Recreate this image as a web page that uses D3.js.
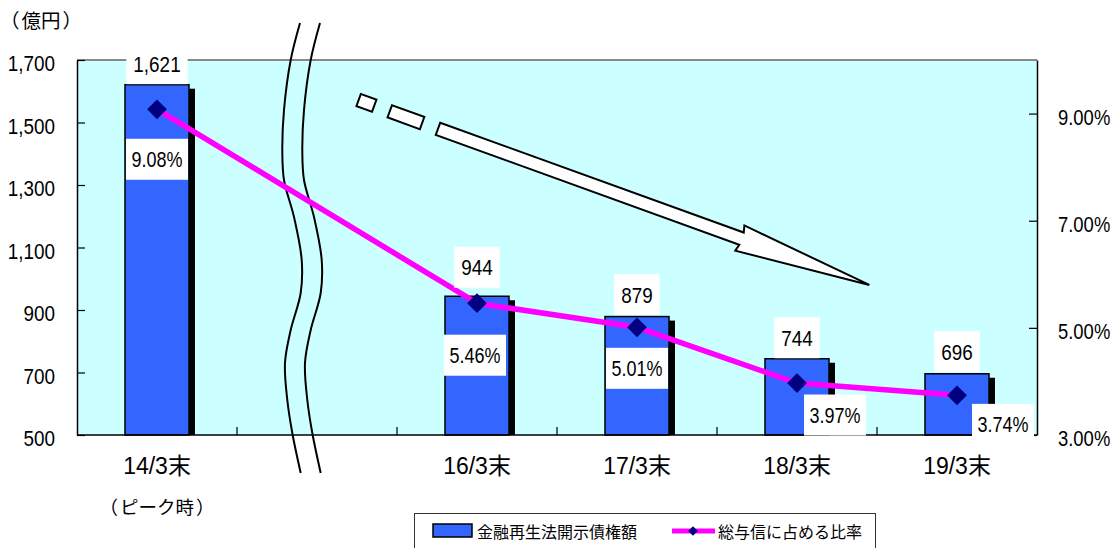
<!DOCTYPE html>
<html>
<head>
<meta charset="utf-8">
<script src="https://cdn.jsdelivr.net/npm/d3@7"></script>
<style>
  html, body { margin: 0; padding: 0; background: #fff; }
  svg { display: block; }
</style>
</head>
<body>
<svg id="chart" width="1112" height="548"></svg>
<script>
// ---- data ----
const categories = ["14/3末", "", "16/3末", "17/3末", "18/3末", "19/3末"];
const categoryNotes = ["（ピーク時）", "", "", "", "", ""];
const disclosedClaims = [1621, null, 944, 879, 744, 696];   // 億円
const claimRatio = [9.08, null, 5.46, 5.01, 3.97, 3.74];     // %
const leftTicks = [500, 700, 900, 1100, 1300, 1500, 1700];
const rightTicks = [3, 5, 7, 9];
const seriesNames = ["金融再生法開示債権額", "総与信に占める比率"];
const unitLabel = "（億円）";

// ---- label placement (px offsets from each mark) ----
const valueLabelDy = [-21, 0, -29, -22, -21, -22];
const ratioLabelOffset = [[0, 50], [0, 0], [-2, 52], [0, 41], [38, 32], [46, 29]];

// ---- layout ----
const plot = { left: 77, right: 1037, top: 60, bottom: 435 };
const NUM_FONT = "'Liberation Sans', Arial, sans-serif";
const JP_FONT = "'Noto Sans CJK JP', 'Noto Sans', sans-serif";
const COLORS = { bg: "#CCFFFF", bar: "#3366FF", line: "#FF00FF", marker: "#000080" };
const NUM_SIZE = 22.5;

const svg = d3.select("#chart");

const x = d3.scaleBand().domain(categories).range([plot.left, plot.right]).padding(0);
const yL = d3.scaleLinear().domain([500, 1700]).range([plot.bottom, plot.top]);
const yR = d3.scaleLinear().domain([3, 10]).range([plot.bottom, plot.top]);
const cx = c => x(c) + x.bandwidth() / 2;
const barW = x.bandwidth() * 0.4;

// text wrapped in full-width brackets, with a little space inside them
function bracketed(textSel, str, gap) {
  const inner = str.slice(1, -1);
  textSel.append("tspan").text(str[0]);
  textSel.append("tspan").attr("dx", gap).text(inner);
  textSel.append("tspan").attr("dx", gap).text(str[str.length - 1]);
}

// plot background
svg.append("rect")
  .attr("x", plot.left).attr("y", plot.top)
  .attr("width", plot.right - plot.left).attr("height", plot.bottom - plot.top)
  .attr("fill", COLORS.bg);

// top frame line
svg.append("line")
  .attr("x1", plot.left).attr("x2", plot.right)
  .attr("y1", plot.top).attr("y2", plot.top)
  .attr("stroke", "#888").attr("stroke-width", 2);

// ---- bars with drop shadow ----
const barData = categories.map((c, i) => ({ c, v: disclosedClaims[i], i })).filter(d => d.v != null);

const bars = svg.append("g");
bars.selectAll("rect.shadow").data(barData).join("rect")
  .attr("class", "shadow")
  .attr("x", d => cx(d.c) - barW / 2 + 6)
  .attr("y", d => yL(d.v) + 4)
  .attr("width", barW)
  .attr("height", d => plot.bottom - yL(d.v) - 4)
  .attr("fill", "#000");
bars.selectAll("rect.bar").data(barData).join("rect")
  .attr("class", "bar")
  .attr("x", d => cx(d.c) - barW / 2)
  .attr("y", d => yL(d.v))
  .attr("width", barW)
  .attr("height", d => plot.bottom - yL(d.v))
  .attr("fill", COLORS.bar)
  .attr("stroke", "#000").attr("stroke-width", 1.5);

// ---- axis break (double wavy line) ----
const breakWave = [[16, -37], [6.7, 0], [0, 50], [-1.7, 90], [0, 120], [10, 157], [17.7, 200],
  [16.7, 233], [6.7, 270], [1, 303], [3.3, 340], [8.3, 373], [16.7, 413]];
const breakX = x(categories[1]) + 47;
const wave = d3.line()
  .x(p => breakX + p[0])
  .y(p => plot.top + p[1])
  .curve(d3.curveCatmullRom);
[0, 20].forEach(off => {
  svg.append("path")
    .attr("d", wave(breakWave.map(p => [p[0] + off, p[1]])))
    .attr("fill", "none").attr("stroke", "#000").attr("stroke-width", 2);
});

// ---- trend arrow (dashed tail + block arrow) ----
const arrow = svg.append("g")
  .attr("transform", `translate(${plot.left + 361},${plot.top + 68.8}) rotate(19.9)`);
const arrowStyle = sel => sel.attr("fill", "#fff").attr("stroke", "#000").attr("stroke-width", 2);
[[-84.4, -67.8], [-51.3, -16.9]].forEach(([a, b]) => {
  arrow.append("rect").attr("x", a).attr("y", -6.5).attr("width", b - a).attr("height", 13).call(arrowStyle);
});
arrow.append("polygon")
  .attr("points", [[0, -6.5], [322.8, -6.5], [321, -13.4], [458.7, 0], [321, 13.4], [322.8, 6.5], [0, 6.5]].join(" "))
  .call(arrowStyle);

// ---- ratio line ----
const lineData = categories.map((c, i) => ({ c, v: claimRatio[i], i })).filter(d => d.v != null);
svg.append("path")
  .datum(lineData)
  .attr("d", d3.line().x(d => cx(d.c)).y(d => yR(d.v)))
  .attr("fill", "none").attr("stroke", COLORS.line).attr("stroke-width", 5.5)
  .attr("stroke-linejoin", "round");
svg.selectAll("path.marker").data(lineData).join("path")
  .attr("class", "marker")
  .attr("d", d3.symbol().type(d3.symbolDiamond2).size(250))
  .attr("transform", d => `translate(${cx(d.c)},${yR(d.v)})`)
  .attr("fill", COLORS.marker);

// ---- axes ----
const SX = 0.84;
const gL = svg.append("g").attr("transform", `translate(${plot.left},0)`)
  .call(d3.axisLeft(yL).tickValues(leftTicks).tickFormat(d3.format(",")).tickSize(-8).tickSizeOuter(0).tickPadding(22));
const gR = svg.append("g").attr("transform", `translate(${plot.right},0)`)
  .call(d3.axisRight(yR).tickValues(rightTicks).tickFormat(d => d.toFixed(2) + "%").tickSize(-8).tickSizeOuter(0).tickPadding(21));
[gL, gR].forEach(g => {
  g.select(".domain").attr("stroke", "#000").attr("stroke-width", 1.5);
  g.selectAll(".tick line").attr("stroke", "#000").attr("stroke-width", 1.2);
  g.selectAll(".tick text")
    .attr("font-family", NUM_FONT).attr("font-size", NUM_SIZE).attr("fill", "#000")
    .attr("dy", "0.47em");
});
gL.selectAll(".tick text").attr("transform", `scale(${SX},1)`).attr("x", -22 / SX);
gR.selectAll(".tick text").attr("transform", `scale(0.82,1)`).attr("x", 21 / 0.82);

const gB = svg.append("g").attr("transform", `translate(0,${plot.bottom})`)
  .call(d3.axisBottom(x).tickSize(0).tickPadding(23));
gB.select(".domain").remove();
gB.selectAll(".tick text")
  .attr("font-family", `'Liberation Sans', ${JP_FONT}`).attr("font-size", 23).attr("fill", "#000");
// category boundary ticks
svg.append("g").selectAll("line").data(d3.range(1, categories.length)).join("line")
  .attr("x1", i => plot.left + i * x.step()).attr("x2", i => plot.left + i * x.step())
  .attr("y1", plot.bottom).attr("y2", plot.bottom - 8)
  .attr("stroke", "#000").attr("stroke-width", 1.2);
svg.append("line")
  .attr("x1", plot.left).attr("x2", plot.right)
  .attr("y1", plot.bottom).attr("y2", plot.bottom)
  .attr("stroke", "#000").attr("stroke-width", 1.5);

// sub-notes under category labels
categories.forEach((c, i) => {
  if (!categoryNotes[i]) return;
  const t = svg.append("text")
    .attr("x", cx(c)).attr("y", 508).attr("dy", "0.35em")
    .attr("text-anchor", "middle")
    .attr("font-family", JP_FONT).attr("font-size", 18.5).attr("fill", "#000");
  bracketed(t, categoryNotes[i], 2);
});

// unit label
const unit = svg.append("text")
  .attr("x", 0).attr("y", 21).attr("dy", "0.35em")
  .attr("font-family", JP_FONT).attr("font-size", 19.5).attr("fill", "#000");
bracketed(unit, unitLabel, 2);

// ---- data labels with white boxes ----
function boxedLabel(px, py, str, sx, pad) {
  const g = svg.append("g").attr("transform", `translate(${px},${py})`);
  const rect = g.append("rect").attr("fill", "#fff");
  const t = g.append("text")
    .attr("transform", `scale(${sx},1)`)
    .attr("text-anchor", "middle")
    .attr("y", 0.36 * NUM_SIZE)
    .attr("font-family", NUM_FONT).attr("font-size", NUM_SIZE).attr("fill", "#000")
    .text(str);
  const w = t.node().getComputedTextLength() * sx + pad;
  rect.attr("x", -w / 2).attr("y", -20.5).attr("width", w).attr("height", 41);
}
barData.forEach(d => {
  boxedLabel(cx(d.c), yL(d.v) + valueLabelDy[d.i], d3.format(",")(d.v), SX, 14);
});
lineData.forEach(d => {
  const [dx, dy] = ratioLabelOffset[d.i];
  boxedLabel(cx(d.c) + dx, yR(d.v) + dy, d.v.toFixed(2) + "%", 0.8, 11);
});

// ---- legend ----
const lg = svg.append("g");
lg.append("rect")
  .attr("x", 414.5).attr("y", 513.5).attr("width", 461).attr("height", 45)
  .attr("fill", "#fff").attr("stroke", "#333").attr("stroke-width", 1);
lg.append("rect")
  .attr("x", 433).attr("y", 524).attr("width", 39).attr("height", 13)
  .attr("fill", COLORS.bar).attr("stroke", "#000").attr("stroke-width", 1.5);
lg.append("text")
  .attr("x", 477).attr("y", 532).attr("dy", "0.35em")
  .attr("font-family", JP_FONT).attr("font-size", 16).attr("fill", "#000")
  .text(seriesNames[0]);
lg.append("line")
  .attr("x1", 672).attr("x2", 715).attr("y1", 531).attr("y2", 531)
  .attr("stroke", COLORS.line).attr("stroke-width", 5);
lg.append("path")
  .attr("d", d3.symbol().type(d3.symbolDiamond2).size(60))
  .attr("transform", "translate(693,531)")
  .attr("fill", COLORS.marker);
lg.append("text")
  .attr("x", 718).attr("y", 532).attr("dy", "0.35em")
  .attr("font-family", JP_FONT).attr("font-size", 16).attr("fill", "#000")
  .text(seriesNames[1]);
</script>
</body>
</html>
